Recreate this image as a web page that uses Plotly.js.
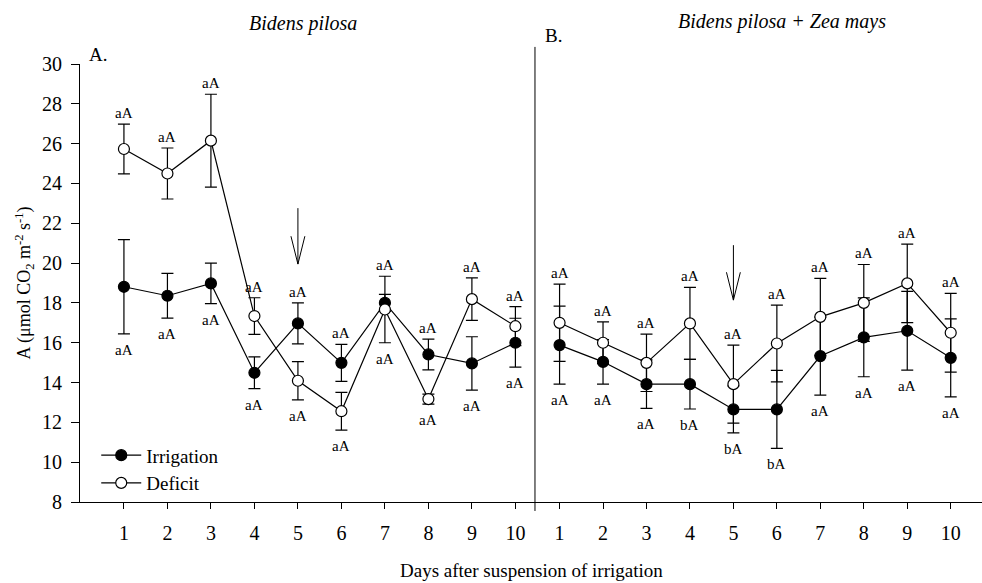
<!DOCTYPE html>
<html>
<head>
<meta charset="utf-8">
<script src="https://cdn.plot.ly/plotly-3.0.1.min.js"></script>
<style>html,body{margin:0;padding:0;background:#fff;}#chart{width:982px;height:583px;}</style>
</head>
<body>
<div id="chart"></div>
<script>
// ---- data ----
const days = [1, 2, 3, 4, 5, 6, 7, 8, 9, 10];
const tickLabels = ['1', '2', '3', '4', '5', '6', '7', '8', '9', '10'];

// Panel A: Bidens pilosa
const irrA    = [18.81, 18.36, 18.98, 14.49, 16.97, 14.99, 18.00, 15.41, 14.96, 16.00];
const irrAErr = [2.37, 1.12, 1.02, 0.80, 1.03, 0.93, 0.43, 0.77, 1.34, 1.23];
const defA    = [25.73, 24.50, 26.15, 17.34, 14.09, 12.56, 17.67, 13.17, 18.19, 16.83];
const defAErr = [1.25, 1.28, 2.33, 0.92, 0.96, 0.95, 1.67, 0.25, 1.07, 0.98];
const irrALetters = ['aA', 'aA', 'aA', 'aA', 'aA', 'aA', 'aA', 'aA', 'aA', 'aA'];
const defALetters = ['aA', 'aA', 'aA', 'aA', 'aA', 'aA', 'aA', 'aA', 'aA', 'aA'];

// Panel B: Bidens pilosa + Zea mays
const irrB    = [15.88, 15.04, 13.92, 13.92, 12.65, 12.65, 15.33, 16.27, 16.60, 15.24];
const irrBErr = [1.96, 1.12, 1.22, 1.25, 1.18, 1.96, 1.96, 1.98, 1.98, 1.96];
const defB    = [17.00, 16.00, 14.99, 16.97, 13.92, 15.96, 17.30, 18.00, 18.98, 16.50];
const defBErr = [1.94, 1.05, 1.44, 1.81, 1.96, 1.93, 1.93, 1.93, 1.97, 1.98];
const irrBLetters = ['aA', 'aA', 'aA', 'bA', 'bA', 'bA', 'aA', 'aA', 'aA', 'aA'];
const defBLetters = ['aA', 'aA', 'aA', 'aA', 'aA', 'aA', 'aA', 'aA', 'aA', 'aA'];

// arrow marking day of interest
const arrowDay = 5;
const arrowA = [22.76, 19.95];
const arrowB = [20.90, 18.14];

// ---- drawing ----
const FONT = 'Liberation Serif, Times New Roman, serif';
const black = '#000';

function seriesTrace(y, err, xa, filled, name, showlegend) {
  return {
    type: 'scatter', mode: 'lines+markers', x: days, y: y, xaxis: xa, yaxis: 'y',
    name: name, showlegend: showlegend, legendgroup: name,
    line: {color: black, width: 1.2},
    marker: {size: 11, color: filled ? black : '#fff', line: {color: black, width: 1.2}, symbol: 'circle'},
    error_y: {type: 'data', array: err, visible: true, color: black, thickness: 1.2, width: 6},
    cliponaxis: false
  };
}

function letterAnnotations(irr, irrE, irrL, def, defE, defL, xa) {
  const out = [];
  for (let i = 0; i < days.length; i++) {
    const top = Math.max(irr[i] + irrE[i], def[i] + defE[i]);
    const bot = Math.min(irr[i] - irrE[i], def[i] - defE[i]);
    const irrHigher = irr[i] >= def[i];
    const common = {xref: xa, yref: 'y', x: days[i], xanchor: 'center', yanchor: 'middle',
      showarrow: false, font: {family: FONT, size: 15, color: black}};
    out.push(Object.assign({}, common, {y: top, text: irrHigher ? irrL[i] : defL[i], yshift: 11}));
    out.push(Object.assign({}, common, {y: bot, text: irrHigher ? defL[i] : irrL[i], yshift: -16}));
  }
  return out;
}

const traces = [
  seriesTrace(irrA, irrAErr, 'x', true, 'Irrigation', true),
  seriesTrace(defA, defAErr, 'x', false, 'Deficit', true),
  seriesTrace(irrB, irrBErr, 'x2', true, 'Irrigation', false),
  seriesTrace(defB, defBErr, 'x2', false, 'Deficit', false)
];

function arrowShapes(xref, yr) {
  const dx = 0.16, dy = 1.4;
  const ln = {color: black, width: 1};
  return [
    {type: 'line', xref: xref, yref: 'y', x0: arrowDay, x1: arrowDay, y0: yr[0], y1: yr[1], line: ln},
    {type: 'line', xref: xref, yref: 'y', x0: arrowDay - dx, x1: arrowDay, y0: yr[1] + dy, y1: yr[1], line: ln},
    {type: 'line', xref: xref, yref: 'y', x0: arrowDay + dx, x1: arrowDay, y0: yr[1] + dy, y1: yr[1], line: ln}
  ];
}

const split = 0.5044;
const xCommon = {
  tickvals: days, ticktext: tickLabels, ticks: 'outside', ticklen: 6, tickwidth: 1, tickcolor: black,
  showline: true, linecolor: black, linewidth: 1, showgrid: false, zeroline: false,
  tickfont: {family: FONT, size: 20, color: black}, anchor: 'y', ticklabelstandoff: 7, fixedrange: true
};

const layout = {
  width: 982, height: 583,
  margin: {l: 80, r: 0, t: 64, b: 81, pad: 0},
  paper_bgcolor: '#fff', plot_bgcolor: '#fff',
  font: {family: FONT, color: black},
  xaxis: Object.assign({}, xCommon, {domain: [0, split], range: [-0.01, 10.45]}),
  xaxis2: Object.assign({}, xCommon, {domain: [split, 1], range: [0.434, 10.72]}),
  yaxis: {
    range: [8, 30], tick0: 8, dtick: 2, ticks: 'outside', ticklen: 8, tickwidth: 1, tickcolor: black,
    showline: true, linecolor: black, linewidth: 1, showgrid: false, zeroline: false,
    tickfont: {family: FONT, size: 20, color: black}, ticklabelstandoff: 5,
    title: {text: 'A (μmol CO<sub>2</sub> m<sup>-2</sup> s<sup>-1</sup>)', font: {family: FONT, size: 18, color: black}, standoff: 6}
  },
  showlegend: true,
  legend: {
    x: 0.018, y: 0.15, xanchor: 'left', yanchor: 'top', bgcolor: 'rgba(0,0,0,0)',
    font: {family: FONT, size: 19, color: black}, itemwidth: 40, tracegroupgap: 0,
    traceorder: 'normal'
  },
  shapes: [
    {type: 'line', xref: 'paper', yref: 'paper', x0: split, x1: split, y0: -0.0205, y1: 1.039, line: {color: black, width: 1}},
    ...arrowShapes('x', arrowA),
    ...arrowShapes('x2', arrowB)
  ],
  annotations: [
    {text: '<i>Bidens pilosa</i>', xref: 'paper', yref: 'paper', x: 0.2467, y: 1.0936, xanchor: 'center', yanchor: 'middle', showarrow: false, font: {family: FONT, size: 20, color: black}},
    {text: '<i>Bidens pilosa + Zea mays</i>', xref: 'paper', yref: 'paper', x: 0.778, y: 1.098, xanchor: 'center', yanchor: 'middle', showarrow: false, font: {family: FONT, size: 20, color: black}},
    {text: 'A.', xref: 'paper', yref: 'paper', x: 0.0078, y: 1.0228, xanchor: 'left', yanchor: 'middle', showarrow: false, font: {family: FONT, size: 19, color: black}},
    {text: 'B.', xref: 'paper', yref: 'paper', x: 0.5133, y: 1.064, xanchor: 'left', yanchor: 'middle', showarrow: false, font: {family: FONT, size: 19, color: black}},
    {text: 'Days after suspension of irrigation', xref: 'paper', yref: 'paper', x: 0.5, y: -0.1575, xanchor: 'center', yanchor: 'middle', showarrow: false, font: {family: FONT, size: 19, color: black}},
    ...letterAnnotations(irrA, irrAErr, irrALetters, defA, defAErr, defALetters, 'x'),
    ...letterAnnotations(irrB, irrBErr, irrBLetters, defB, defBErr, defBLetters, 'x2')
  ]
};

Plotly.newPlot('chart', traces, layout, {displayModeBar: false, staticPlot: true});
</script>
</body>
</html>
